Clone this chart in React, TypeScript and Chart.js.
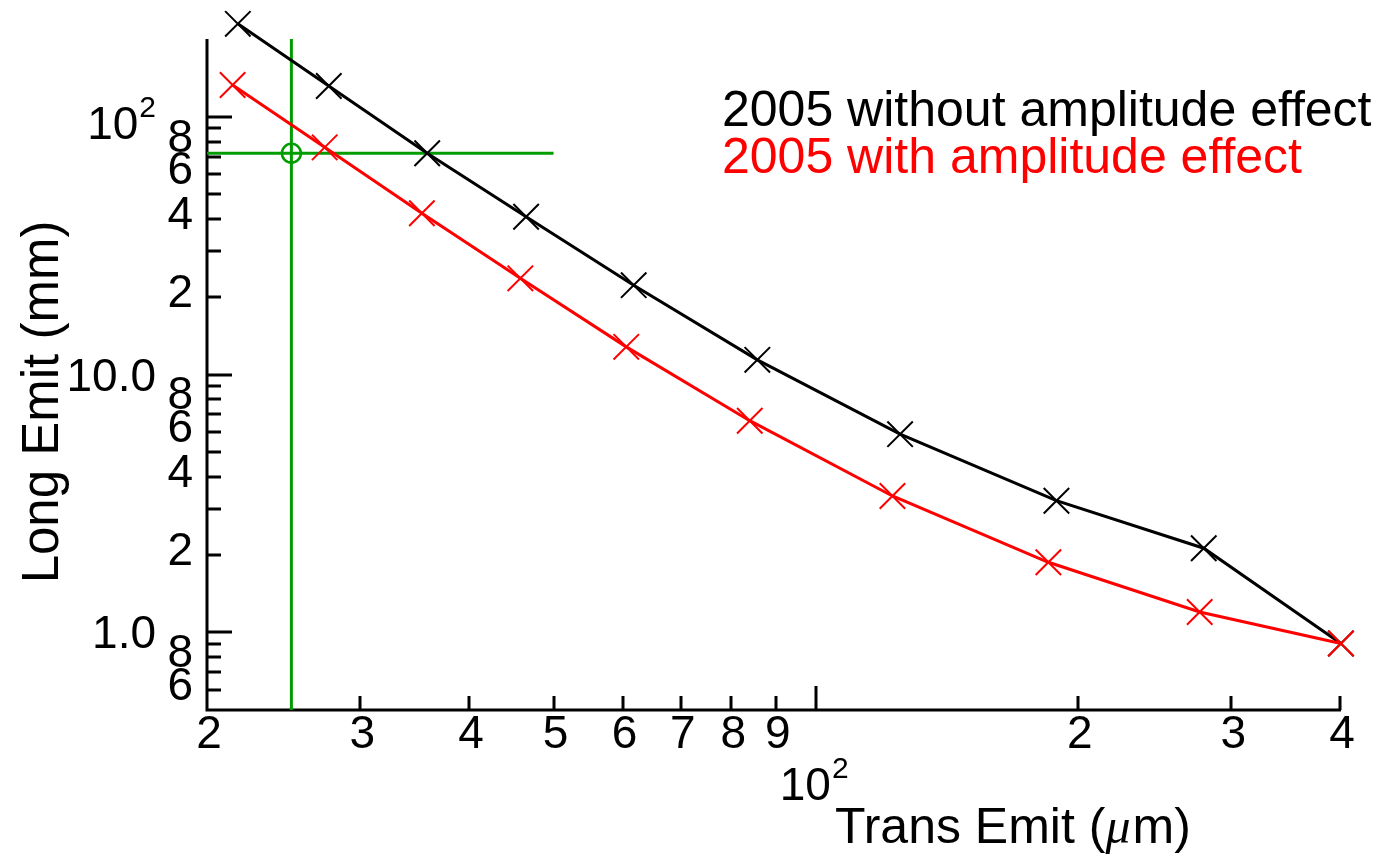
import React, { useEffect, useRef } from "react";
import { Chart, registerables } from "chart.js";

Chart.register(...registerables);

// ---- data ----
const transEmitNoAmp = [21.7, 27.6, 35.8, 46.5, 61.8, 85.7, 125, 189, 279, 401];
const longEmitNoAmp = [229, 131.5, 72.1, 40.9, 22.2, 11.4, 5.87, 3.24, 2.12, 0.905];
const transEmitAmp = [21.4, 27.3, 35.3, 45.8, 60.6, 84.0, 122.5, 185, 276, 401];
const longEmitAmp = [132.6, 76.0, 42.2, 23.6, 12.8, 6.62, 3.38, 1.87, 1.2, 0.905];
const seriesNames = ["2005 without amplitude effect", "2005 with amplitude effect"];

const guideTrans = 25;
const guideLong = 72.1;
const guideTransEnd = 50;

const xLimits = [20, 400];
const yLimits = [0.5, 200];

const xMajorTicks = [100];
const xMinorTicks = [30, 40, 50, 60, 70, 80, 90, 200, 300, 400];
const xMinorLabels: [number, string][] = [
  [20, "2"], [30, "3"], [40, "4"], [50, "5"], [60, "6"], [70, "7"], [80, "8"], [90, "9"],
  [200, "2"], [300, "3"], [400, "4"],
];
const xMajorLabels: [number, string, string][] = [[100, "10", "2"]];

const yMajorTicks = [1, 10, 100];
const yMinorTicks = [0.6, 0.7, 0.8, 0.9, 2, 3, 4, 5, 6, 7, 8, 9, 20, 30, 40, 50, 60, 70, 80, 90];
const yMinorLabels: [number, string][] = [
  [0.6, "6"], [0.8, "8"], [2, "2"], [4, "4"], [6, "6"], [8, "8"],
  [20, "2"], [40, "4"], [60, "6"], [80, "8"],
];
const yMajorLabels: [number, string, string][] = [[1, "1.0", ""], [10, "10.0", ""], [100, "10", "2"]];

const xTitleParts = ["Trans Emit (", "\u03bc", "m)"];
const yTitle = "Long Emit (mm)";

const BLACK = "#000000";
const RED = "#ff0000";
const GREEN = "#009c00";
const FONT = '"Liberation Sans", Arial, sans-serif';

const axesPlugin = {
  id: "axesPlugin",
  beforeDatasetsDraw(chart: any) {
    const { ctx, chartArea: ca, scales } = chart;
    const xs = scales.x;
    const ys = scales.y;
    ctx.save();
    ctx.strokeStyle = BLACK;
    ctx.lineWidth = 3;
    ctx.lineCap = "butt";
    ctx.lineJoin = "miter";
    ctx.beginPath();
    ctx.moveTo(ca.left, ca.top);
    ctx.lineTo(ca.left, ca.bottom);
    ctx.lineTo(ca.right + 1, ca.bottom);
    ctx.stroke();

    ctx.beginPath();
    for (const v of yMajorTicks) {
      const p = Math.round(ys.getPixelForValue(v));
      ctx.moveTo(ca.left, p);
      ctx.lineTo(ca.left + 25, p);
    }
    for (const v of yMinorTicks) {
      const p = Math.round(ys.getPixelForValue(v));
      ctx.moveTo(ca.left, p);
      ctx.lineTo(ca.left + 14, p);
    }
    for (const v of xMajorTicks) {
      const p = Math.round(xs.getPixelForValue(v));
      ctx.moveTo(p, ca.bottom);
      ctx.lineTo(p, ca.bottom - 24);
    }
    for (const v of xMinorTicks) {
      const p = Math.round(xs.getPixelForValue(v));
      ctx.moveTo(p, ca.bottom);
      ctx.lineTo(p, ca.bottom - 14);
    }
    ctx.stroke();
    ctx.restore();
  },
  afterDraw(chart: any) {
    const { ctx, chartArea: ca, scales } = chart;
    const xs = scales.x;
    const ys = scales.y;
    ctx.save();
    ctx.fillStyle = BLACK;
    ctx.textBaseline = "alphabetic";

    // x minor labels
    ctx.font = `46px ${FONT}`;
    ctx.textAlign = "center";
    for (const [v, t] of xMinorLabels) {
      const p = xs.getPixelForValue(v);
      ctx.fillText(t, p + 2, ca.bottom + 38);
    }
    // x major labels (10^2) on a second row
    for (const [v, base, exp] of xMajorLabels) {
      const p = xs.getPixelForValue(v);
      ctx.font = `46px ${FONT}`;
      const wb = ctx.measureText(base).width;
      ctx.font = `30px ${FONT}`;
      const we = ctx.measureText(exp).width;
      const left = p - 2 - (wb + we) / 2;
      ctx.textAlign = "left";
      ctx.font = `46px ${FONT}`;
      ctx.fillText(base, left, ca.bottom + 90);
      ctx.font = `30px ${FONT}`;
      ctx.fillText(exp, left + wb + 1, ca.bottom + 68);
    }

    // y minor labels
    ctx.font = `46px ${FONT}`;
    ctx.textAlign = "right";
    for (const [v, t] of yMinorLabels) {
      const p = ys.getPixelForValue(v);
      ctx.fillText(t, ca.left - 14, p + 10);
    }
    // y major labels
    for (const [v, base, exp] of yMajorLabels) {
      const p = ys.getPixelForValue(v);
      if (exp) {
        ctx.font = `30px ${FONT}`;
        const we = ctx.measureText(exp).width;
        ctx.textAlign = "right";
        ctx.fillText(exp, ca.left - 51, p);
        ctx.font = `46px ${FONT}`;
        ctx.fillText(base, ca.left - 52 - we, p + 22);
      } else {
        ctx.font = `46px ${FONT}`;
        ctx.textAlign = "right";
        ctx.fillText(base, ca.left - 51, p + 16);
      }
    }

    // x title
    let tx = 835;
    const ty = ca.bottom + 133;
    ctx.textAlign = "left";
    ctx.font = `50px ${FONT}`;
    ctx.fillText(xTitleParts[0], tx, ty);
    tx += ctx.measureText(xTitleParts[0]).width;
    ctx.font = `italic 50px "Liberation Serif", serif`;
    ctx.fillText(xTitleParts[1], tx, ty);
    tx += ctx.measureText(xTitleParts[1]).width + 2;
    ctx.font = `50px ${FONT}`;
    ctx.fillText(xTitleParts[2], tx, ty);

    // y title
    ctx.save();
    ctx.translate(58, 402);
    ctx.rotate(-Math.PI / 2);
    ctx.textAlign = "center";
    ctx.font = `51px ${FONT}`;
    ctx.fillText(yTitle, 0, 0);
    ctx.restore();

    // legend text
    ctx.textAlign = "left";
    ctx.font = `50px ${FONT}`;
    ctx.fillStyle = BLACK;
    ctx.fillText(seriesNames[0], 722, 126);
    ctx.fillStyle = RED;
    ctx.fillText(seriesNames[1], 722, 173);

    ctx.restore();
  },
};

export default function App() {
  const canvasRef = useRef<HTMLCanvasElement | null>(null);

  useEffect(() => {
    document.body.style.margin = "0";
    const canvas = canvasRef.current;
    if (!canvas) return;

    const toPoints = (xs: number[], ys: number[]) => xs.map((x, i) => ({ x, y: ys[i] }));

    const chart = new Chart(canvas, {
      type: "scatter",
      data: {
        datasets: [
          {
            label: seriesNames[1],
            data: toPoints(transEmitAmp, longEmitAmp),
            showLine: true,
            borderColor: RED,
            backgroundColor: RED,
            borderWidth: 3,
            pointStyle: "crossRot",
            pointRadius: 18,
            pointHoverRadius: 18,
            pointBorderWidth: 2,
            pointBorderColor: RED,
            tension: 0,
            clip: false,
          } as any,
          {
            label: seriesNames[0],
            data: toPoints(transEmitNoAmp, longEmitNoAmp),
            showLine: true,
            borderColor: BLACK,
            backgroundColor: BLACK,
            borderWidth: 3,
            pointStyle: "crossRot",
            pointRadius: 18,
            pointHoverRadius: 18,
            pointBorderWidth: 2,
            pointBorderColor: BLACK,
            tension: 0,
            clip: false,
          } as any,
          {
            label: "guide point",
            data: [{ x: guideTrans, y: guideLong }],
            showLine: false,
            pointStyle: "circle",
            pointRadius: 9.5,
            pointHoverRadius: 9.5,
            pointBorderWidth: 2.5,
            pointBorderColor: GREEN,
            pointBackgroundColor: "rgba(0,0,0,0)",
            clip: false,
          } as any,
          {
            label: "guide vertical",
            data: [
              { x: guideTrans, y: yLimits[0] },
              { x: guideTrans, y: yLimits[1] },
            ],
            showLine: true,
            borderColor: GREEN,
            borderWidth: 3,
            pointRadius: 0,
            pointHoverRadius: 0,
            clip: false,
          } as any,
          {
            label: "guide horizontal",
            data: [
              { x: xLimits[0], y: guideLong },
              { x: guideTransEnd, y: guideLong },
            ],
            showLine: true,
            borderColor: GREEN,
            borderWidth: 3,
            pointRadius: 0,
            pointHoverRadius: 0,
            clip: false,
          } as any,
        ],
      },
      options: {
        animation: false,
        responsive: false,
        events: [],
        layout: { padding: { left: 207, top: 39, right: 36, bottom: 149 } },
        plugins: {
          legend: { display: false },
          tooltip: { enabled: false },
          title: { display: false },
        },
        scales: {
          x: { type: "logarithmic", min: xLimits[0], max: xLimits[1], display: false },
          y: { type: "logarithmic", min: yLimits[0], max: yLimits[1], display: false },
        },
      },
      plugins: [axesPlugin],
    });

    return () => chart.destroy();
  }, []);

  return (
    <canvas
      ref={canvasRef}
      width={1376}
      height={859}
      style={{ display: "block", width: 1376, height: 859 }}
    />
  );
}
